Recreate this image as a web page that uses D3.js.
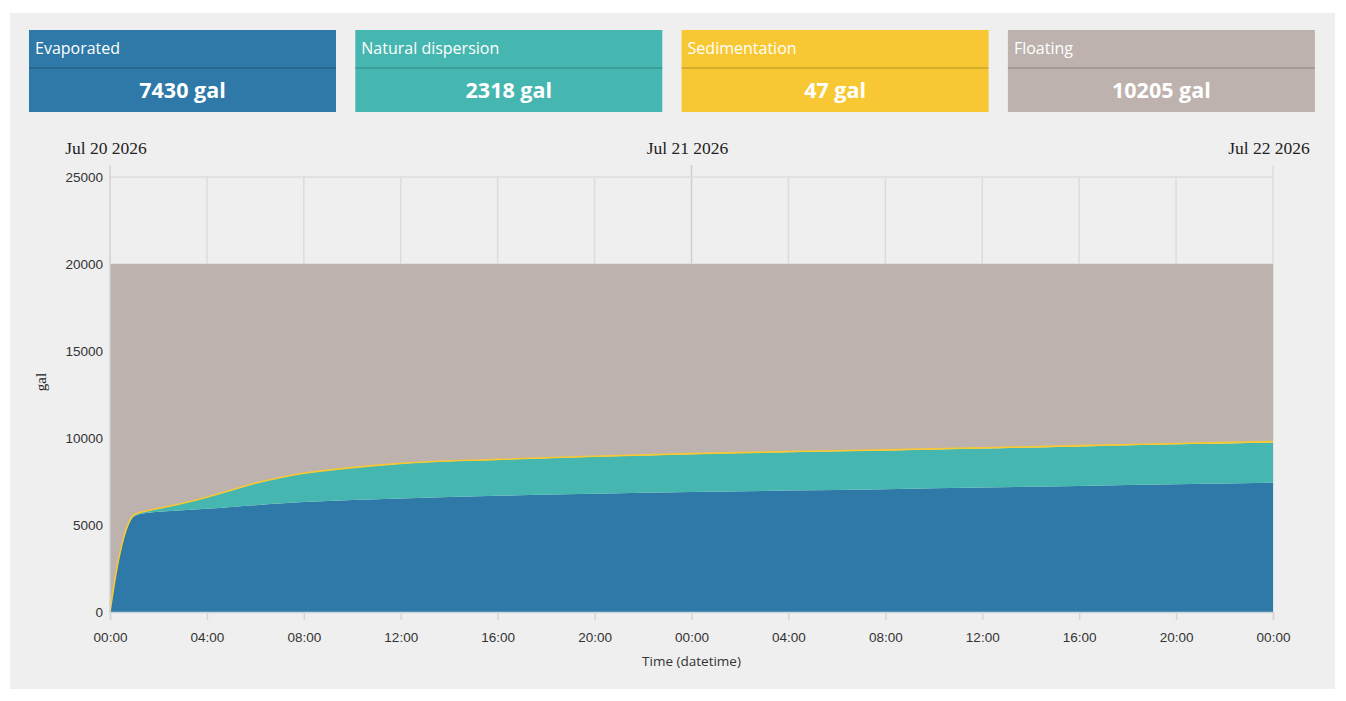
<!DOCTYPE html>
<html>
<head>
<meta charset="utf-8">
<script src="https://cdn.jsdelivr.net/npm/d3@7"></script>
<style>
  body { margin: 0; background: #fff; }
  svg { display: block; }
</style>
</head>
<body>
<svg id="chart" width="1346" height="701"></svg>
<script>
// hours since Jul 20 2026 00:00
const hours = [0, 0.25, 0.5, 0.75, 1, 1.5, 2, 3, 4, 5, 6, 7, 8, 10, 12, 16, 20, 24, 28, 32, 36, 40, 44, 48];
const evaporated = [0, 2200, 3880, 4960, 5500, 5690, 5760, 5850, 5930, 6030, 6130, 6230, 6320, 6440, 6520, 6680, 6800, 6900, 6980, 7060, 7150, 7240, 7340, 7430];
const dispersion = [0, 30, 50, 89, 89, 108, 187, 396, 664, 963, 1262, 1481, 1639, 1847, 2004, 2070, 2125, 2171, 2207, 2224, 2251, 2278, 2295, 2318];
const sedimentation = [0, 0, 0, 1, 1, 2, 3, 4, 6, 7, 8, 9, 11, 13, 16, 20, 25, 29, 33, 36, 39, 42, 45, 47];
const floating = [20000, 17770, 16070, 14950, 14410, 14200, 14050, 13750, 13400, 13000, 12600, 12280, 12030, 11700, 11460, 11230, 11050, 10900, 10780, 10680, 10560, 10440, 10320, 10205];

const seriesNames = ["Evaporated", "Natural dispersion", "Sedimentation", "Floating"];
const seriesKeys = ["evap", "disp", "sed", "float"];
const seriesColors = ["#2e79a7", "#45b7b0", "#f7c833", "#bdb2ad"];
const cardValues = ["7430 gal", "2318 gal", "47 gal", "10205 gal"];
const yTicks = [0, 5000, 10000, 15000, 20000, 25000];
const dayLabels = ["Jul 20 2026", "Jul 21 2026", "Jul 22 2026"];

const start = new Date(2026, 6, 20, 0, 0);
const rows = hours.map((h, i) => ({
  date: new Date(start.getTime() + h * 3600e3),
  evap: evaporated[i],
  disp: dispersion[i],
  sed: sedimentation[i],
  float: floating[i],
}));

const svg = d3.select("#chart");

// grey panel
svg.append("rect")
  .attr("x", 10).attr("y", 13)
  .attr("width", 1325).attr("height", 676)
  .attr("fill", "#efefef");

// summary cards
const cardW = 307, cardGap = 19.3;
const cards = svg.selectAll(".card")
  .data(seriesNames)
  .enter()
  .append("g")
  .attr("transform", (d, i) => `translate(${29 + i * (cardW + cardGap)}, 30)`);

cards.append("rect")
  .attr("width", cardW).attr("height", 82)
  .attr("fill", (d, i) => seriesColors[i]);

cards.append("line")
  .attr("x1", 0).attr("x2", cardW)
  .attr("y1", 38).attr("y2", 38)
  .attr("stroke", "rgba(0,0,0,0.18)")
  .attr("stroke-width", 1.5);

cards.append("text")
  .attr("x", 6).attr("y", 24)
  .attr("fill", "#fff")
  .style("font", "16px 'Open Sans', sans-serif")
  .text((d) => d);

cards.append("text")
  .attr("x", cardW / 2).attr("y", 68)
  .attr("text-anchor", "middle")
  .attr("fill", "#fff")
  .style("font", "bold 21.5px 'Open Sans', sans-serif")
  .text((d, i) => cardValues[i]);

// chart area
const plotLeft = 110, plotRight = 1273, plotTop = 177, plotBottom = 612;

const x = d3.scaleTime()
  .domain([start, new Date(start.getTime() + 48 * 3600e3)])
  .range([plotLeft, plotRight]);

const y = d3.scaleLinear()
  .domain([0, 25000])
  .range([plotBottom, plotTop]);

// gridlines
const gridTimes = x.ticks(d3.timeHour.every(4));
svg.append("g")
  .selectAll("line")
  .data(gridTimes)
  .enter()
  .append("line")
  .attr("x1", (d) => x(d)).attr("x2", (d) => x(d))
  .attr("y1", (d) => (d.getHours() === 0 ? 165 : plotTop))
  .attr("y2", plotBottom)
  .attr("stroke", (d) => (d.getHours() === 0 && x(d) > plotLeft && x(d) < plotRight ? "#cfcfcf" : "#dcdcdc"))
  .attr("stroke-width", 1.5);

svg.append("g")
  .selectAll("line")
  .data(yTicks)
  .enter()
  .append("line")
  .attr("x1", plotLeft).attr("x2", plotRight)
  .attr("y1", (d) => y(d)).attr("y2", (d) => y(d))
  .attr("stroke", "#dcdcdc")
  .attr("stroke-width", 1.5);

// stacked areas
const stack = d3.stack().keys(seriesKeys);
const layers = stack(rows);

const area = d3.area()
  .curve(d3.curveMonotoneX)
  .x((d) => x(d.data.date))
  .y0((d) => y(d[0]))
  .y1((d) => y(d[1]));

svg.append("g")
  .selectAll("path")
  .data(layers)
  .enter()
  .append("path")
  .attr("d", area)
  .attr("fill", (d, i) => seriesColors[i]);

// thin sedimentation band drawn as a line so it stays visible
const sedLine = d3.line()
  .curve(d3.curveMonotoneX)
  .x((d) => x(d.data.date))
  .y((d) => y(d[1]));

svg.append("path")
  .attr("d", sedLine(layers[2]))
  .attr("fill", "none")
  .attr("stroke", seriesColors[2])
  .attr("stroke-width", 1.6);

// x axis
const xAxis = svg.append("g")
  .attr("transform", `translate(0, ${plotBottom})`)
  .call(d3.axisBottom(x)
    .ticks(d3.timeHour.every(4))
    .tickFormat(d3.timeFormat("%H:%M"))
    .tickSize(8)
    .tickPadding(12));
xAxis.select(".domain").attr("stroke", "#c9d3dc").attr("stroke-width", 1.5);
xAxis.selectAll(".tick line").attr("stroke", "#d6d6d6").attr("stroke-width", 1.5);
xAxis.selectAll(".tick text")
  .attr("fill", "#333")
  .style("font", "13.5px 'Liberation Sans', Arial, sans-serif");

svg.append("text")
  .attr("x", (plotLeft + plotRight) / 2).attr("y", 666)
  .attr("text-anchor", "middle")
  .attr("fill", "#333")
  .style("font", "13.5px 'Open Sans', sans-serif")
  .text("Time (datetime)");

// y axis
const yAxis = svg.append("g")
  .attr("transform", `translate(${plotLeft}, 0)`)
  .call(d3.axisLeft(y).tickValues(yTicks).tickFormat(d3.format("d")).tickSize(0).tickPadding(7));
yAxis.select(".domain").remove();
yAxis.selectAll(".tick text")
  .attr("fill", "#333")
  .style("font", "13.5px 'Liberation Sans', Arial, sans-serif");

svg.append("line")
  .attr("x1", plotLeft).attr("x2", plotLeft)
  .attr("y1", 165).attr("y2", plotBottom)
  .attr("stroke", "#d6d6d6")
  .attr("stroke-width", 1.5);

svg.append("text")
  .attr("transform", `translate(46, 382) rotate(-90)`)
  .attr("text-anchor", "middle")
  .attr("fill", "#222")
  .style("font", "15px 'Liberation Serif', serif")
  .text("gal");

// day labels on top
svg.append("g")
  .selectAll("text")
  .data(dayLabels)
  .enter()
  .append("text")
  .attr("x", (d, i) => x(new Date(start.getTime() + i * 24 * 3600e3)) - 4)
  .attr("y", 154)
  .attr("text-anchor", "middle")
  .attr("fill", "#222")
  .style("font", "17.5px 'Liberation Serif', serif")
  .text((d) => d);
</script>
</body>
</html>
